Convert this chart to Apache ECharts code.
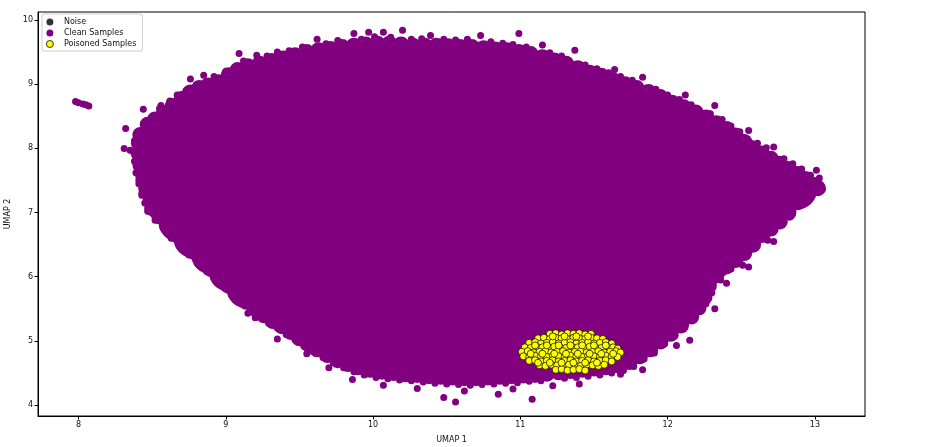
<!DOCTYPE html>
<html>
<head>
<meta charset="utf-8">
<script src="https://cdn.jsdelivr.net/npm/echarts@6/dist/echarts.min.js"></script>
<style>
html,body{margin:0;padding:0;background:#fff;}
#chart{width:930px;height:447px;}
</style>
</head>
<body>
<div id="chart"></div>
<script>
// ---- Data (UMAP coordinates) ----
const xTicks = [8, 9, 10, 11, 12, 13];
const yTicks = [4, 5, 6, 7, 8, 9, 10];
const seriesNames = ['Noise', 'Clean Samples', 'Poisoned Samples'];

const noise = [];

// dense interior of the clean-sample cloud
const cleanCore = [
  [9.60,8.85],[9.98,8.88],[10.36,8.88],[10.74,8.86],[11.05,8.82],[9.25,8.70],[11.35,8.65],[11.62,8.45],
  [8.80,8.10],[9.16,8.12],[9.54,8.12],[9.92,8.12],[10.30,8.12],[10.68,8.12],[11.06,8.10],[11.44,8.10],[11.82,8.08],[12.02,8.02],
  [8.84,7.35],[9.18,7.35],[9.56,7.35],[9.94,7.35],[10.32,7.35],[10.70,7.35],[11.08,7.35],[11.46,7.35],[11.84,7.35],[12.22,7.35],[12.56,7.35],
  [9.12,6.70],[9.42,6.60],[9.76,6.60],[10.14,6.60],[10.52,6.60],[10.90,6.60],[11.28,6.60],[11.66,6.60],[12.04,6.60],[12.30,6.62],
  [9.25,6.25],[9.48,5.98],[9.76,5.85],[10.10,5.85],[10.48,5.85],[10.86,5.85],[11.24,5.85],[11.62,5.85],[11.94,5.88],
  [9.95,5.27],[10.28,5.20],[10.66,5.18],[11.04,5.20],[11.42,5.25],[11.72,5.40],[12.18,6.95],[12.40,7.70],[8.95,7.72]
];

// inner rim of the cloud
const cleanBand = [
  [8.53,7.95],[8.60,8.25],[8.70,8.45],[8.82,8.65],[8.95,8.78],[9.10,8.96],[9.25,9.05],[9.42,9.13],[9.60,9.24],[9.78,9.30],
  [9.96,9.34],[10.14,9.35],[10.32,9.32],[10.50,9.31],[10.68,9.30],[10.86,9.26],[11.04,9.21],[11.22,9.10],[11.40,8.96],[11.57,8.84],
  [11.74,8.72],[11.90,8.56],[12.06,8.42],[12.22,8.24],[12.36,8.05],[12.50,7.82],[12.64,7.62],[12.78,7.45],[12.88,7.36],
  [12.72,7.12],[12.58,6.85],[12.44,6.55],[12.30,6.25],[12.18,5.95],[12.10,5.60],[11.95,5.28],[11.80,5.02],[11.64,4.90],[11.46,4.84],
  [11.28,4.80],[11.10,4.75],[10.92,4.72],[10.74,4.70],[10.56,4.71],[10.38,4.73],[10.20,4.77],[10.02,4.82],[9.85,4.92],[9.70,5.05],
  [9.56,5.25],[9.42,5.45],[9.28,5.62],[9.14,5.82],[9.02,6.08],[8.90,6.35],[8.78,6.60],[8.68,6.85],[8.60,7.12],[8.56,7.40],[8.54,7.68]
];

// outer edge of the cloud
const cleanEdge = [
  [8.42,8.21],[8.47,8.37],[8.52,8.45],[8.58,8.55],[8.64,8.66],[8.70,8.77],[8.76,8.87],[8.82,8.94],[8.88,8.98],[8.95,9.03],
  [9.02,9.14],[9.08,9.22],[9.15,9.28],[9.23,9.32],[9.31,9.36],[9.39,9.40],[9.47,9.45],[9.55,9.50],[9.63,9.53],[9.71,9.55],
  [9.79,9.58],[9.87,9.60],[9.95,9.62],[10.03,9.63],[10.11,9.63],[10.19,9.62],[10.27,9.60],[10.35,9.60],[10.43,9.60],[10.51,9.59],
  [10.59,9.58],[10.67,9.58],[10.75,9.56],[10.83,9.54],[10.91,9.53],[10.99,9.50],[11.07,9.47],[11.15,9.42],[11.23,9.37],[11.31,9.32],
  [11.39,9.25],[11.47,9.18],[11.55,9.13],[11.63,9.06],[11.71,9.00],[11.79,8.94],[11.87,8.88],[11.95,8.80],[12.03,8.71],[12.11,8.64],
  [12.19,8.56],[12.26,8.48],[12.33,8.39],[12.40,8.30],[12.46,8.20],[12.52,8.10],[12.58,8.00],[12.64,7.92],[12.70,7.84],[12.76,7.76],
  [12.82,7.68],[12.88,7.60],[12.94,7.52],[13.00,7.43],[13.02,7.38],
  [12.95,7.31],[12.88,7.16],[12.82,7.00],[12.76,6.86],[12.70,6.75],[12.64,6.65],[12.58,6.50],[12.52,6.37],[12.46,6.26],[12.40,6.16],
  [12.33,6.02],[12.28,5.86],[12.25,5.68],[12.21,5.52],[12.16,5.38],[12.09,5.24],[12.02,5.11],[11.95,4.99],[11.88,4.87],[11.81,4.76],
  [11.74,4.67],[11.66,4.62],[11.58,4.59],[11.50,4.57],[11.42,4.55],[11.34,4.53],[11.26,4.51],[11.18,4.49],[11.10,4.47],[11.02,4.46],
  [10.94,4.45],[10.86,4.44],[10.78,4.43],[10.70,4.42],[10.62,4.42],[10.54,4.43],[10.46,4.44],[10.38,4.45],[10.30,4.47],[10.22,4.48],
  [10.14,4.50],[10.06,4.52],[9.98,4.55],[9.90,4.59],[9.83,4.64],[9.76,4.70],[9.69,4.78],[9.62,4.87],[9.56,4.95],[9.50,5.04],
  [9.44,5.14],[9.38,5.23],[9.32,5.31],[9.26,5.40],[9.20,5.50],[9.14,5.61],[9.08,5.73],[9.02,5.86],[8.96,6.00],[8.90,6.12],
  [8.84,6.25],[8.78,6.39],[8.72,6.52],[8.66,6.66],[8.60,6.80],[8.55,6.94],[8.50,7.07],[8.49,7.20],[8.46,7.38],[8.44,7.56],
  [8.42,7.74],[8.41,7.92],[8.41,8.08]
];

// ragged single points along the rim
const cleanRim = [
  [8.45,8.40],[8.55,8.62],[8.62,8.74],[8.73,8.90],[8.80,8.99],[8.92,9.12],[9.00,9.20],[9.12,9.36],[9.28,9.44],[9.43,9.52],
  [9.52,9.58],[9.68,9.63],[9.76,9.68],[9.92,9.70],[10.01,9.74],[10.12,9.73],[10.26,9.70],[10.33,9.71],[10.48,9.70],[10.56,9.69],
  [10.64,9.70],[10.80,9.66],[10.88,9.64],[10.95,9.62],[11.04,9.58],[11.20,9.49],[11.28,9.44],[11.44,9.30],[11.52,9.24],[11.60,9.18],
  [11.68,9.12],[11.76,9.06],[11.92,8.92],[12.00,8.83],[12.08,8.76],[12.16,8.68],[12.29,8.54],[12.37,8.45],[12.43,8.35],[12.49,8.26],
  [12.61,8.08],[12.67,8.01],[12.79,7.84],[12.85,7.76],[12.91,7.68],[12.97,7.58],
  [12.91,7.15],[12.79,6.85],[12.67,6.62],[12.55,6.38],[12.43,6.12],[12.36,5.95],[12.30,5.75],[12.26,5.58],[12.19,5.42],[12.12,5.25],
  [12.05,5.08],[11.98,4.96],[11.91,4.86],[11.84,4.72],[11.77,4.60],[11.70,4.54],[11.62,4.50],[11.54,4.47],[11.46,4.45],[11.38,4.43],
  [11.30,4.42],[11.14,4.38],[11.06,4.37],[10.98,4.35],[10.90,4.34],[10.82,4.33],[10.74,4.32],[10.66,4.31],[10.58,4.32],[10.50,4.33],
  [10.42,4.34],[10.34,4.36],[10.26,4.38],[10.18,4.39],[10.10,4.41],[10.02,4.43],[9.94,4.47],[9.87,4.52],[9.80,4.58],[9.73,4.66],
  [9.66,4.74],[9.59,4.84],[9.53,4.92],[9.47,5.02],[9.41,5.10],[9.35,5.20],[9.29,5.28],[9.23,5.38],[9.17,5.48],[9.11,5.58],
  [9.05,5.70],[8.99,5.83],[8.93,5.96],[8.87,6.08],[8.81,6.20],[8.75,6.34],[8.69,6.47],[8.63,6.60],[8.58,6.74],[8.52,6.88],
  [8.47,7.02],[8.45,7.15],[8.43,7.30],[8.41,7.45],[8.39,7.62],[8.38,7.80],[8.37,7.95],[8.38,8.12]
];

// scattered single points outside the dense edge
const cleanOutliers = [
  [7.98,8.73],[8.00,8.71],[8.03,8.69],[8.05,8.68],[8.07,8.66],
  [8.32,8.31],[8.31,8.00],[8.35,7.97],[8.44,8.61],[8.41,7.50],[8.43,7.27],[8.56,7.04],[8.58,6.93],[8.74,8.92],[8.67,8.83],
  [8.56,8.67],[8.76,9.08],[8.85,9.14],[9.09,9.48],[9.21,9.45],[9.35,9.50],[9.62,9.70],[9.87,9.79],[9.97,9.81],[10.07,9.81],
  [10.20,9.84],[10.39,9.76],[10.73,9.76],[10.99,9.79],[11.15,9.61],[11.37,9.53],[11.64,9.23],[11.83,9.11],[12.12,8.83],[12.32,8.67],
  [12.55,8.28],[12.72,8.02],[13.01,7.66],[13.03,7.54],[13.05,7.36],[13.00,7.47],[12.95,7.24],[12.83,6.93],[12.76,6.96],[12.68,6.57],
  [12.51,6.18],[12.72,6.55],[12.55,6.15],[12.32,5.50],[12.15,5.01],[12.06,4.93],[11.91,4.81],[11.83,4.55],[11.68,4.48],[11.40,4.33],
  [11.08,4.09],[10.85,4.17],[10.56,4.05],[10.48,4.12],[8.58,6.77],[8.71,6.46],[8.96,5.92],[9.04,5.71],[9.15,5.43],[9.20,5.36],
  [9.35,5.03],[9.70,4.58],[9.86,4.40],[10.07,4.31],[10.30,4.26],[10.62,4.22],[10.95,4.25],[11.22,4.30],[9.55,4.80],[12.40,5.90]
];

// poisoned cluster
const poisoned = [
  [11.20,5.11],[11.24,5.12],[11.28,5.10],[11.32,5.12],[11.36,5.11],[11.40,5.12],[11.44,5.10],[11.48,5.11],
  [11.12,5.04],[11.16,5.05],[11.20,5.03],[11.24,5.05],[11.28,5.04],[11.32,5.03],[11.36,5.05],[11.40,5.04],[11.44,5.03],[11.48,5.05],[11.52,5.04],[11.56,5.03],
  [11.06,4.97],[11.10,4.98],[11.14,4.96],[11.18,4.97],[11.22,4.98],[11.26,4.96],[11.30,4.97],[11.34,4.98],[11.38,4.96],[11.42,4.97],[11.46,4.98],[11.50,4.96],[11.54,4.97],[11.58,4.98],[11.62,4.96],
  [11.03,4.90],[11.07,4.89],[11.11,4.91],[11.15,4.90],[11.19,4.89],[11.23,4.91],[11.27,4.90],[11.31,4.89],[11.35,4.91],[11.39,4.90],[11.43,4.89],[11.47,4.91],[11.51,4.90],[11.55,4.89],[11.59,4.91],[11.63,4.90],[11.66,4.88],
  [11.01,4.83],[11.05,4.84],[11.09,4.82],[11.13,4.83],[11.17,4.84],[11.21,4.82],[11.25,4.83],[11.29,4.84],[11.33,4.82],[11.37,4.83],[11.41,4.84],[11.45,4.82],[11.49,4.83],[11.53,4.84],[11.57,4.82],[11.61,4.83],[11.65,4.84],[11.68,4.82],
  [11.02,4.76],[11.06,4.75],[11.10,4.77],[11.14,4.76],[11.18,4.75],[11.22,4.77],[11.26,4.76],[11.30,4.75],[11.34,4.77],[11.38,4.76],[11.42,4.75],[11.46,4.77],[11.50,4.76],[11.54,4.75],[11.58,4.77],[11.62,4.76],[11.66,4.75],
  [11.06,4.69],[11.10,4.70],[11.14,4.68],[11.18,4.69],[11.22,4.70],[11.26,4.68],[11.30,4.69],[11.34,4.70],[11.38,4.68],[11.42,4.69],[11.46,4.70],[11.50,4.68],[11.54,4.69],[11.58,4.70],[11.62,4.68],
  [11.13,4.62],[11.17,4.61],[11.21,4.63],[11.25,4.62],[11.29,4.61],[11.33,4.63],[11.37,4.62],[11.41,4.61],[11.45,4.63],[11.49,4.62],[11.53,4.61],[11.57,4.63],
  [11.24,4.55],[11.28,4.56],[11.32,4.54],[11.36,4.55],[11.40,4.56],[11.44,4.54],
  [11.10,4.93],[11.18,4.93],[11.26,4.93],[11.34,4.93],[11.42,4.93],[11.50,4.93],[11.58,4.93],
  [11.07,4.80],[11.15,4.80],[11.23,4.80],[11.31,4.80],[11.39,4.80],[11.47,4.80],[11.55,4.80],[11.63,4.80],
  [11.12,4.66],[11.20,4.66],[11.28,4.66],[11.36,4.66],[11.44,4.66],[11.52,4.66],
  [11.22,5.07],[11.30,5.07],[11.38,5.07],[11.46,5.07]
];

// ---- Chart ----
const PURPLE = '#800080';
const FONT = 'DejaVu Sans';
const chart = echarts.init(document.getElementById('chart'), null, {renderer: 'canvas'});

function cleanSeries(data, size) {
  return {
    name: seriesNames[1], type: 'scatter', data: data, symbol: 'circle', symbolSize: size,
    itemStyle: {color: PURPLE, opacity: 1}, silent: true, emphasis: {disabled: true}
  };
}

chart.setOption({
  animation: false,
  backgroundColor: '#ffffff',
  grid: {left: 38, right: 65, top: 12, bottom: 31, outerBoundsMode: 'none', containLabel: false,
         show: true, borderColor: '#000', borderWidth: 1, backgroundColor: 'transparent'},
  legend: {
    data: [
      {name: seriesNames[0], itemStyle: {color: '#000000'}},
      {name: seriesNames[1], itemStyle: {color: PURPLE}},
      {name: seriesNames[2], itemStyle: {color: '#ffff00', borderColor: '#000000', borderWidth: 0.8}}
    ],
    orient: 'vertical', left: 42, top: 14,
    padding: [4, 6, 3, 4], itemGap: 3, itemWidth: 12, itemHeight: 7, icon: 'circle',
    borderColor: '#cccccc', borderWidth: 1, borderRadius: 2, backgroundColor: 'rgba(255,255,255,0.85)',
    textStyle: {fontFamily: FONT, fontSize: 8, color: '#111', padding: [0, 0, 0, 3]}
  },
  xAxis: {
    type: 'value', min: 7.725, max: 13.34,
    name: 'UMAP 1', nameLocation: 'middle', nameGap: 20,
    nameTextStyle: {fontFamily: FONT, fontSize: 8, color: '#111'},
    axisLine: {show: true, onZero: false, lineStyle: {color: '#000', width: 1}},
    axisTick: {show: true, length: 3.5, lineStyle: {color: '#000'}, customValues: xTicks},
    axisLabel: {fontFamily: FONT, fontSize: 8, color: '#111', margin: 5, customValues: xTicks},
    splitLine: {show: false}
  },
  yAxis: {
    type: 'value', min: 3.83, max: 10.125,
    name: 'UMAP 2', nameLocation: 'middle', nameGap: 21,
    nameTextStyle: {fontFamily: FONT, fontSize: 8, color: '#111'},
    axisLine: {show: true, onZero: false, lineStyle: {color: '#000', width: 1}},
    axisTick: {show: true, length: 3.5, lineStyle: {color: '#000'}, customValues: yTicks},
    axisLabel: {fontFamily: FONT, fontSize: 8, color: '#111', margin: 5, customValues: yTicks},
    splitLine: {show: false}
  },
  series: [
    {name: seriesNames[0], type: 'scatter', data: noise, symbolSize: 7, itemStyle: {color: '#000000'}},
    cleanSeries(cleanCore, 76),
    cleanSeries(cleanBand, 40),
    cleanSeries(cleanEdge, 16),
    cleanSeries(cleanRim, 7),
    cleanSeries(cleanOutliers, 7),
    {
      name: seriesNames[2], type: 'scatter', data: poisoned, symbol: 'circle', symbolSize: 7,
      itemStyle: {color: '#ffff00', borderColor: '#000000', borderWidth: 0.7, opacity: 1},
      silent: true, emphasis: {disabled: true}
    }
  ]
});
</script>
</body>
</html>
